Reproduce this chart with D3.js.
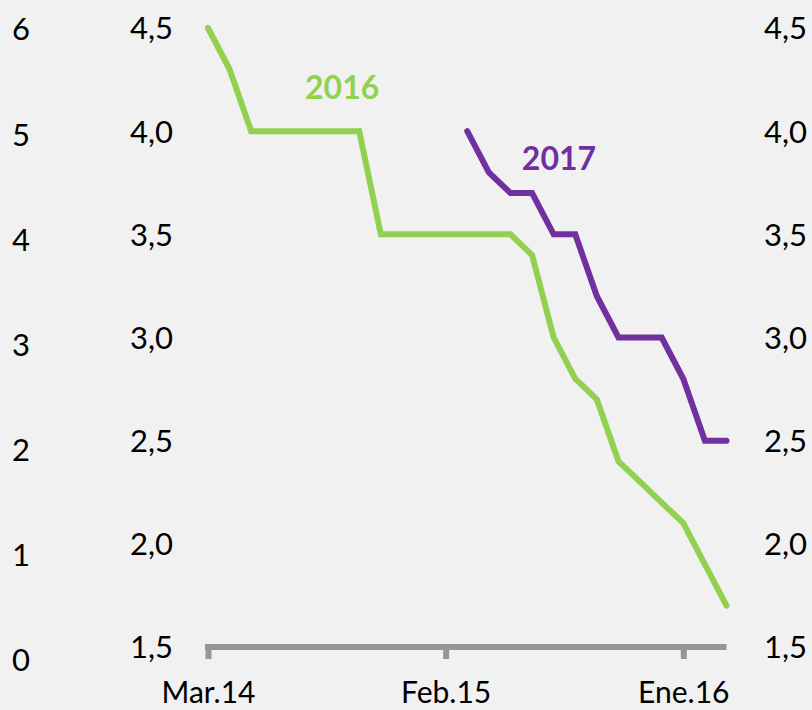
<!DOCTYPE html>
<html>
<head>
<meta charset="utf-8">
<script src="https://cdn.jsdelivr.net/npm/d3@7"></script>
<style>
  body { margin: 0; background: #f1f1f1; }
  text { font-family: Lato, "Open Sans", sans-serif; fill: #000; }
</style>
</head>
<body>
<script>
// months (x categories)
var months = [
  "Mar.14", "Abr.14", "May.14", "Jun.14", "Jul.14", "Ago.14", "Sep.14",
  "Oct.14", "Nov.14", "Dic.14", "Ene.15", "Feb.15", "Mar.15", "Abr.15",
  "May.15", "Jun.15", "Jul.15", "Ago.15", "Sep.15", "Oct.15", "Nov.15",
  "Dic.15", "Ene.16", "Feb.16", "Mar.16"
];
var monthTicks = ["Mar.14", "Feb.15", "Ene.16"];

// forecasts for 2016 and 2017
var values2016 = [4.5, 4.3, 4.0, 4.0, 4.0, 4.0, 4.0, 4.0, 3.5, 3.5, 3.5, 3.5,
  3.5, 3.5, 3.5, 3.4, 3.0, 2.8, 2.7, 2.4, 2.3, 2.2, 2.1, 1.9, 1.7];
var values2017 = [null, null, null, null, null, null, null, null, null, null,
  null, null, 4.0, 3.8, 3.7, 3.7, 3.5, 3.5, 3.2, 3.0, 3.0, 3.0, 2.8, 2.5, 2.5];

var rateTicks = [1.5, 2.0, 2.5, 3.0, 3.5, 4.0, 4.5];
var outerTicks = [0, 1, 2, 3, 4, 5, 6];

var width = 812, height = 710;

var svg = d3.select("body").append("svg")
  .attr("width", width)
  .attr("height", height);

svg.append("rect")
  .attr("width", width).attr("height", height)
  .attr("fill", "#f1f1f1");

var x = d3.scalePoint().domain(months).range([208, 726.5]);
var y = d3.scaleLinear().domain([1.5, 4.5]).range([647, 28]);
var yOuter = d3.scaleLinear().domain([0, 6]).range([660, 29]);

var comma = function (d) { return d3.format(".1f")(d).replace(".", ","); };

// outer left axis 0..6
var gOuter = svg.append("g")
  .attr("transform", "translate(21,0)")
  .call(d3.axisLeft(yOuter).tickValues(outerTicks).tickFormat(d3.format("d"))
    .tickSize(0).tickPadding(0));
gOuter.selectAll("text").attr("text-anchor", "middle");

// inner left axis
var gLeft = svg.append("g")
  .attr("transform", "translate(173,0)")
  .call(d3.axisLeft(y).tickValues(rateTicks).tickFormat(comma).tickSize(0).tickPadding(0));

// right axis
var gRight = svg.append("g")
  .attr("transform", "translate(807,0)")
  .call(d3.axisLeft(y).tickValues(rateTicks).tickFormat(comma).tickSize(0).tickPadding(0));

[gOuter, gLeft, gRight].forEach(function (g) {
  g.select(".domain").remove();
  g.selectAll("text")
    .attr("font-size", 31)
    .attr("font-family", "Lato, 'Open Sans', sans-serif")
    .attr("dy", "0.35em");
});

// x axis
var gx = svg.append("g")
  .attr("transform", "translate(0," + y(1.5) + ")")
  .call(d3.axisBottom(x).tickValues(monthTicks).tickSize(12).tickSizeOuter(0));

gx.select(".domain")
  .attr("stroke", "#969696")
  .attr("stroke-width", 6)
  .attr("d", "M" + (x(months[0]) - 3) + ",0H" + x(months[months.length - 1]));
gx.selectAll(".tick line")
  .attr("stroke", "#969696")
  .attr("stroke-width", 6);
gx.selectAll(".tick text")
  .attr("font-size", 30)
  .attr("font-family", "Lato, 'Open Sans', sans-serif")
  .attr("dy", null)
  .attr("y", 56);

// lines
var line = d3.line()
  .defined(function (d) { return d != null; })
  .x(function (d, i) { return x(months[i]); })
  .y(function (d) { return y(d); });

svg.append("path")
  .datum(values2016)
  .attr("d", line)
  .attr("fill", "none")
  .attr("stroke", "#92d050")
  .attr("stroke-width", 6)
  .attr("stroke-linecap", "round");

svg.append("path")
  .datum(values2017)
  .attr("d", line)
  .attr("fill", "none")
  .attr("stroke", "#7030a0")
  .attr("stroke-width", 6)
  .attr("stroke-linecap", "round");

// series labels
svg.append("text")
  .attr("x", x("Ago.14") - 11).attr("y", 99)
  .attr("font-size", 32).attr("font-weight", "bold")
  .style("fill", "#92d050")
  .text("2016");

svg.append("text")
  .attr("x", x("Abr.15") + 33).attr("y", 170)
  .attr("font-size", 32).attr("font-weight", "bold")
  .style("fill", "#7030a0")
  .text("2017");
</script>
</body>
</html>
